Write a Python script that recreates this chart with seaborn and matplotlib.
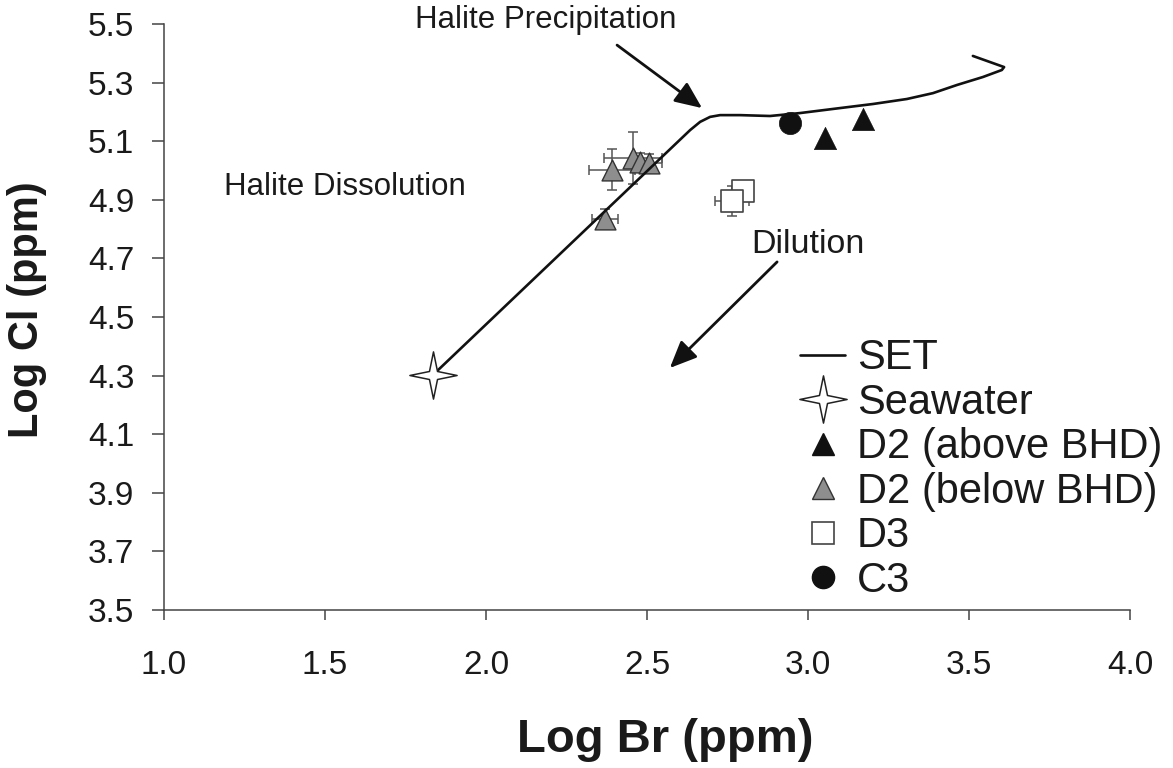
import numpy as np
import pandas as pd
import matplotlib
matplotlib.use("Agg")
import matplotlib.pyplot as plt
from matplotlib.path import Path
from matplotlib.lines import Line2D
import seaborn as sns

# ---------------- data ----------------
set_x = [1.835, 2.634, 2.665, 2.696, 2.727, 2.789, 2.882, 2.975, 3.099, 3.202,
         3.307, 3.388, 3.463, 3.543, 3.602, 3.609, 3.512]
set_y = [4.302, 5.138, 5.166, 5.183, 5.189, 5.189, 5.186, 5.196, 5.213, 5.227,
         5.244, 5.264, 5.292, 5.319, 5.343, 5.353, 5.391]

sea_x = [1.835]
sea_y = [4.302]

d2a_x = [3.053, 3.171]
d2a_y = [5.111, 5.176]

d2b_x = [2.391, 2.457, 2.478, 2.506, 2.370]
d2b_y = [5.002, 5.043, 5.029, 5.026, 4.834]
d2b_xerr = [0.072, 0.09, 0.03, 0.04, 0.04]
d2b_yerr = [0.07, 0.09, 0.03, 0.03, 0.035]

d3_x = [2.764, 2.798]
d3_y = [4.896, 4.930]
d3_xerr = [0.053, 0.03]
d3_yerr = [0.05, 0.035]

c3_x = [2.944]
c3_y = [5.162]

x_ticks = [1.0, 1.5, 2.0, 2.5, 3.0, 3.5, 4.0]
y_ticks = [3.5, 3.7, 3.9, 4.1, 4.3, 4.5, 4.7, 4.9, 5.1, 5.3, 5.5]

legend_labels = ["SET", "Seawater", "D2 (above BHD)", "D2 (below BHD)", "D3", "C3"]

# ---------------- style ----------------
sns.set_style("ticks")
plt.rcParams["font.family"] = ["Liberation Sans", "DejaVu Sans"]

fig = plt.figure(figsize=(11.73, 7.68), dpi=100)
ax = fig.add_axes([164 / 1173, 1 - 610 / 768, (1130 - 164) / 1173, (610 - 24) / 768])

a = 0.17
star = Path([(0, 1), (a, a), (1, 0), (a, -a), (0, -1), (-a, -a), (-1, 0), (-a, a), (0, 1)],
            [Path.MOVETO] + [Path.LINETO] * 7 + [Path.CLOSEPOLY])

gray = "#8e8e8e"
dark = "#111111"

# error bars
ax.errorbar(d2b_x, d2b_y, xerr=d2b_xerr, yerr=d2b_yerr, fmt="none",
            ecolor="#555555", elinewidth=1.1, capsize=3.5, capthick=1.1, zorder=2)
ax.errorbar(d3_x, d3_y, xerr=d3_xerr, yerr=d3_yerr, fmt="none",
            ecolor="#555555", elinewidth=1.1, capsize=3.5, capthick=1.1, zorder=2)

# points
sns.scatterplot(x=d2b_x, y=d2b_y, marker="^", s=15 ** 2, color=gray,
                edgecolor="#333333", linewidth=1.0, ax=ax, zorder=3)
sns.scatterplot(x=d3_x[::-1], y=d3_y[::-1], marker="s", s=15.5 ** 2, color="white",
                edgecolor="#444444", linewidth=1.2, ax=ax, zorder=3)

# SET curve
set_df = pd.DataFrame({"x": set_x, "y": set_y})
sns.lineplot(data=set_df, x="x", y="y", sort=False, estimator=None,
             color=dark, linewidth=1.9, ax=ax, zorder=4)

sns.scatterplot(x=d2a_x, y=d2a_y, marker="^", s=16 ** 2, color=dark,
                edgecolor=dark, linewidth=0.5, ax=ax, zorder=5)
sns.scatterplot(x=c3_x, y=c3_y, marker="o", s=16 ** 2, color=dark,
                edgecolor=dark, linewidth=0.5, ax=ax, zorder=5)
sns.scatterplot(x=sea_x, y=sea_y, marker=star, s=34 ** 2, color="white",
                edgecolor="#222222", linewidth=1.1, ax=ax, zorder=6)

# axes
ax.set_xlim(1.0, 4.0)
ax.set_ylim(3.5, 5.5)
ax.set_xticks(x_ticks)
ax.set_yticks(y_ticks)
ax.set_xticklabels([f"{v:.1f}" for v in x_ticks])
ax.set_yticklabels([f"{v:.1f}" for v in y_ticks])
sns.despine(ax=ax)
for sp in ["left", "bottom"]:
    ax.spines[sp].set_color("#444444")
    ax.spines[sp].set_linewidth(1.1)
ax.tick_params(axis="y", direction="out", length=8.5, width=1.1, color="#444444",
               labelsize=24, pad=13, labelcolor="#1a1a1a")
ax.tick_params(axis="x", direction="out", length=7, width=1.1, color="#444444",
               labelsize=24, pad=22, labelcolor="#1a1a1a")

ax.set_xlabel("Log Br (ppm)", fontsize=34, fontweight="bold", color="#1a1a1a")
ax.set_ylabel("Log Cl (ppm)", fontsize=30, fontweight="bold", color="#1a1a1a")
ax.xaxis.set_label_coords((665 - 164) / 966, (610 - 740) / 586)
ax.xaxis.label.set_verticalalignment("center")
ax.yaxis.set_label_coords((27 - 164) / 966, (610 - 310) / 586)
ax.yaxis.label.set_verticalalignment("center")

# annotations
ax.text(2.186, 5.514, "Halite Precipitation", fontsize=22.5, ha="center", va="center",
        color="#1a1a1a", clip_on=False)
ax.text(1.562, 4.944, "Halite Dissolution", fontsize=22.5, ha="center", va="center",
        color="#1a1a1a")
ax.text(3.0, 4.749, "Dilution", fontsize=24.5, ha="center", va="center", color="#1a1a1a")

arrow_kw = dict(arrowstyle="-|>,head_length=0.55,head_width=0.24", mutation_scale=30,
                lw=2.0, color="#111111", shrinkA=0, shrinkB=0)
ax.annotate("", xy=(2.671, 5.213), xytext=(2.407, 5.428), arrowprops=arrow_kw)
ax.annotate("", xy=(2.571, 4.326), xytext=(2.904, 4.688), arrowprops=arrow_kw)

# legend
handles = [
    Line2D([], [], color=dark, lw=1.9),
    Line2D([], [], marker=star, ls="none", ms=34, mfc="white", mec="#222222", mew=1.1),
    Line2D([], [], marker="^", ls="none", ms=16, mfc=dark, mec=dark),
    Line2D([], [], marker="^", ls="none", ms=16, mfc=gray, mec="#333333", mew=1.0),
    Line2D([], [], marker="s", ls="none", ms=15.5, mfc="white", mec="#444444", mew=1.2),
    Line2D([], [], marker="o", ls="none", ms=16, mfc=dark, mec=dark),
]
leg = fig.legend(handles, legend_labels, loc="lower left",
                 bbox_to_anchor=(800 / 1173, 1 - 601 / 768), frameon=False,
                 fontsize=30, handlelength=1.08, handletextpad=0.29,
                 labelspacing=0.11, borderpad=0, borderaxespad=0)
for t in leg.get_texts():
    t.set_color("#1a1a1a")

fig.savefig("out.png", dpi=100)
